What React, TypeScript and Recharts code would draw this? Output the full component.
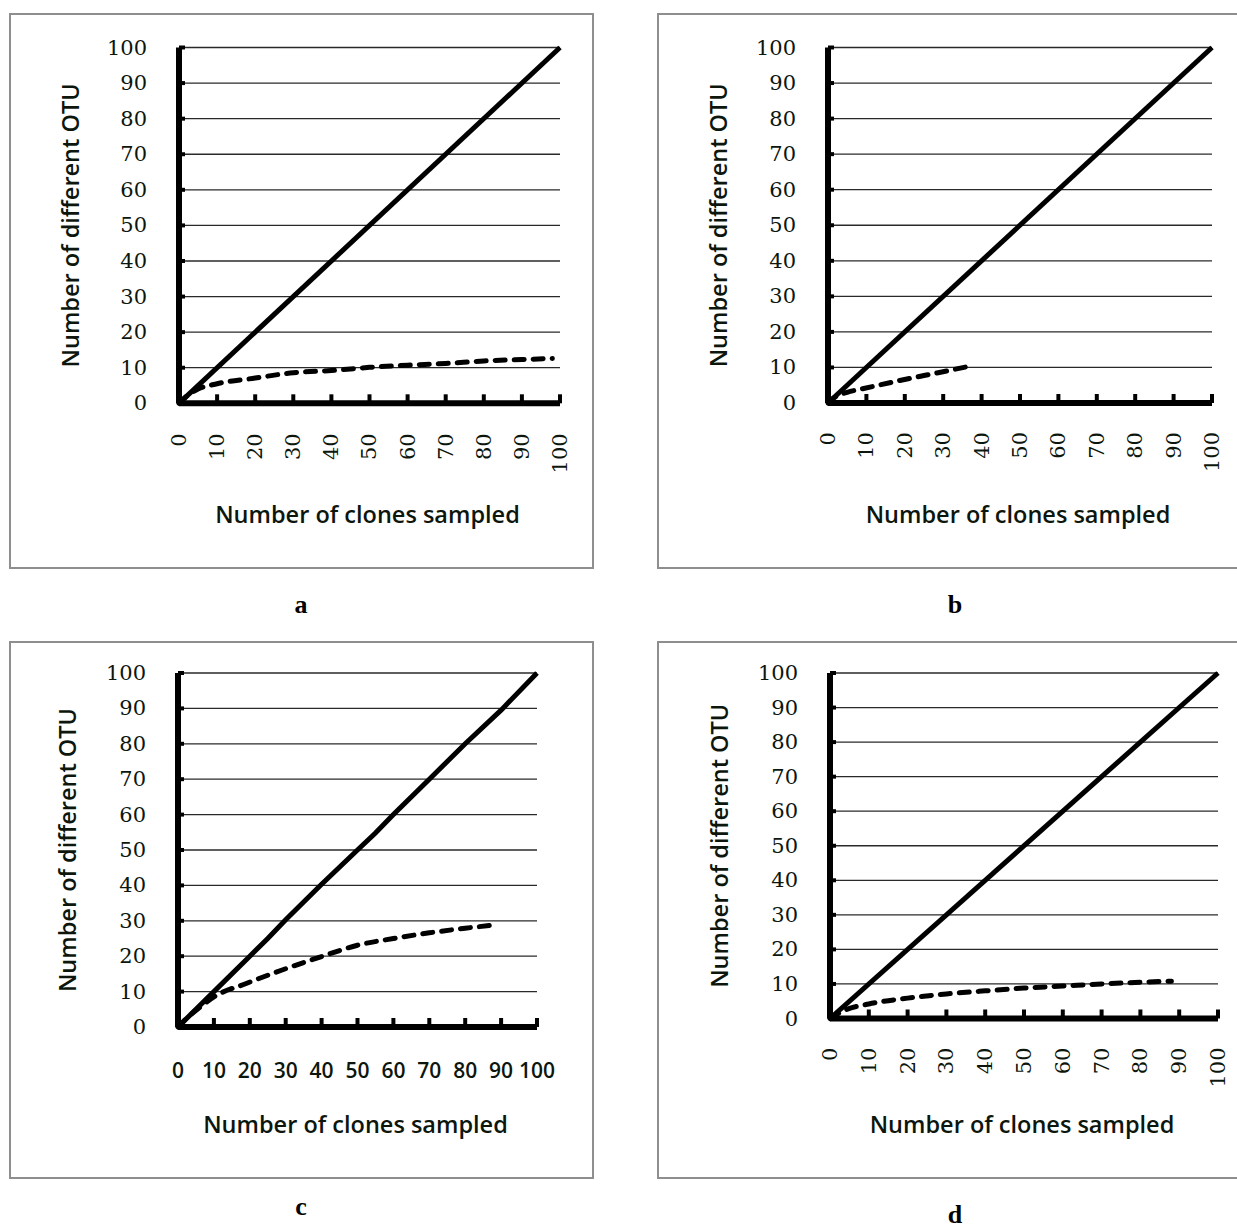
import React from "react";
import { LineChart, Line, XAxis, YAxis, CartesianGrid, Label } from "recharts";

// axis ticks
const xTicks = [0, 10, 20, 30, 40, 50, 60, 70, 80, 90, 100];
const yTicks = [0, 10, 20, 30, 40, 50, 60, 70, 80, 90, 100];

// 1:1 line (every clone a new OTU)
const diagX = [0, 100];
const diagY = [0, 100];

// panel c reference line
const cLineX = [0, 10, 20, 25, 30, 40, 50, 55, 60, 70, 75, 80, 90, 100];
const cLineY = [0, 10, 20, 25, 30.3, 40.3, 50, 54.8, 60, 70, 75, 80, 89.5, 100];

// rarefaction curves
const aClones = [0, 2, 5, 10, 20, 30, 40, 50, 60, 70, 80, 90, 98];
const aOtu = [0, 2, 4, 5.5, 7.1, 8.6, 9.2, 10.1, 10.7, 11.2, 11.9, 12.3, 12.6];

const bClones = [0, 2, 5, 9, 19, 29, 38];
const bOtu = [0, 1.8, 3, 4, 6.4, 8.6, 10.6];

const cClones = [0, 3, 6, 10, 19, 29, 40, 50, 60, 70, 80, 88];
const cOtu = [0, 3, 5.5, 8.5, 12.3, 16.1, 19.9, 23.1, 25, 26.6, 27.9, 28.8];

const dClones = [0, 4, 10, 20, 30, 40, 50, 60, 70, 80, 88];
const dOtu = [0, 2.5, 4.2, 5.9, 7.1, 8, 8.8, 9.4, 10, 10.5, 10.8];

const toPoints = (xs: number[], ys: number[]) => xs.map((x, i) => ({ x, y: ys[i] }));

const SERIF = "'DejaVu Serif', serif";
const SANS = "'Open Sans', sans-serif";
const TEXT = "#0c160c";
const Y_GAP = 32;

type Box = { l: number; t: number; w: number; h: number };
type Plot = { l: number; r: number; t: number; b: number };

interface PanelProps {
  box: Box;
  plot: Plot;
  solid: { x: number; y: number }[];
  dashed: { x: number; y: number }[];
  rotateX: boolean;
  xLabelGap: number;
  xTitleBase: number;
  yTitleCx: number;
}

function YTick(props: any) {
  const { x, y, payload } = props;
  const ax = x + Y_GAP;
  return (
    <g>
      <line x1={ax} x2={ax + 6} y1={y} y2={y} stroke="#000" strokeWidth={4} />
      <text x={x} y={y} textAnchor="end" dominantBaseline="central" fontFamily={SERIF} fontSize={21} fill={TEXT}>
        {payload.value}
      </text>
    </g>
  );
}

function makeXTick(rotate: boolean, gap: number) {
  return (props: any) => {
    const { x, y, payload } = props;
    const ay = y - gap;
    return (
      <g>
        <line x1={x} x2={x} y1={ay} y2={ay - 9} stroke="#000" strokeWidth={4} />
        {rotate ? (
          <text
            x={x}
            y={y}
            transform={`rotate(-90, ${x}, ${y})`}
            textAnchor="end"
            dominantBaseline="central"
            fontFamily={SERIF}
            fontSize={21}
            fill={TEXT}
          >
            {payload.value}
          </text>
        ) : (
          <text x={x} y={y} textAnchor="middle" fontFamily={SANS} fontSize={21} fontWeight={600} fill={TEXT}>
            {payload.value}
          </text>
        )}
      </g>
    );
  };
}

function Panel({ box, plot, solid, dashed, rotateX, xLabelGap, xTitleBase, yTitleCx }: PanelProps) {
  const left = plot.l - box.l;
  const top = plot.t - box.t;
  const right = box.l + box.w - plot.r;
  const xAxisH = box.t + box.h - plot.b;
  return (
    <>
      <div
        style={{
          position: "absolute",
          left: box.l,
          top: box.t,
          width: box.w,
          height: box.h,
          boxSizing: "border-box",
          border: "2px solid #8e8e8e",
        }}
      />
      <div style={{ position: "absolute", left: box.l, top: box.t }}>
        <LineChart width={box.w} height={box.h} margin={{ top, right, left: 0, bottom: 0 }}>
          <CartesianGrid vertical={false} stroke="#2a2a2a" strokeWidth={1.3} />
          <XAxis
            type="number"
            dataKey="x"
            domain={[0, 100]}
            ticks={xTicks}
            interval={0}
            height={xAxisH}
            axisLine={{ stroke: "#000", strokeWidth: 6 }}
            tickLine={false}
            tickSize={0}
            tickMargin={xLabelGap}
            tick={makeXTick(rotateX, xLabelGap)}
          >
            <Label
              content={(p: any) => {
                const vb = p.viewBox;
                return (
                  <text
                    x={vb.x + vb.width / 2 - 2}
                    y={xTitleBase - box.t}
                    textAnchor="middle"
                    fontFamily={SANS}
                    fontSize={23.5}
                    fontWeight={600}
                    fill={TEXT}
                  >
                    Number of clones sampled
                  </text>
                );
              }}
            />
          </XAxis>
          <YAxis
            type="number"
            domain={[0, 100]}
            ticks={yTicks}
            interval={0}
            width={left}
            axisLine={{ stroke: "#000", strokeWidth: 6 }}
            tickLine={false}
            tickSize={0}
            tickMargin={Y_GAP}
            tick={(p: any) => <YTick {...p} />}
          >
            <Label
              content={(p: any) => {
                const vb = p.viewBox;
                const cx = yTitleCx - box.l;
                const cy = vb.y + vb.height / 2;
                return (
                  <text
                    x={cx}
                    y={cy}
                    transform={`rotate(-90, ${cx}, ${cy})`}
                    textAnchor="middle"
                    dominantBaseline="central"
                    fontFamily={SANS}
                    fontSize={23.5}
                    fontWeight={600}
                    fill={TEXT}
                  >
                    Number of different OTU
                  </text>
                );
              }}
            />
          </YAxis>
          <Line
            data={solid}
            dataKey="y"
            type="linear"
            stroke="#000"
            strokeWidth={5}
            dot={false}
            activeDot={false}
            isAnimationActive={false}
          />
          <Line
            data={dashed}
            dataKey="y"
            type="monotone"
            stroke="#000"
            strokeWidth={5}
            strokeDasharray="10 9"
            strokeLinecap="round"
            dot={false}
            activeDot={false}
            isAnimationActive={false}
          />
        </LineChart>
      </div>
    </>
  );
}

function Letter({ x, y, children }: { x: number; y: number; children: string }) {
  return (
    <div
      style={{
        position: "absolute",
        left: x - 20,
        top: y - 22,
        width: 40,
        height: 26,
        textAlign: "center",
        fontFamily: "'Liberation Serif', serif",
        fontWeight: 700,
        fontSize: 26,
        lineHeight: "26px",
        color: "#000",
      }}
    >
      {children}
    </div>
  );
}

export default function App() {
  return (
    <div
      style={{
        position: "absolute",
        left: 0,
        top: 0,
        width: 1237,
        height: 1228,
        overflow: "hidden",
        background: "#fff",
      }}
    >
      <Panel
        box={{ l: 9, t: 13, w: 585, h: 556 }}
        plot={{ l: 179, r: 560, t: 47.5, b: 403.3 }}
        solid={toPoints(diagX, diagY)}
        dashed={toPoints(aClones, aOtu)}
        rotateX
        xLabelGap={30}
        xTitleBase={523}
        yTitleCx={70}
      />
      <Panel
        box={{ l: 657, t: 13, w: 590, h: 556 }}
        plot={{ l: 828, r: 1212, t: 47.5, b: 403 }}
        solid={toPoints(diagX, diagY)}
        dashed={toPoints(bClones, bOtu)}
        rotateX
        xLabelGap={29}
        xTitleBase={523}
        yTitleCx={718}
      />
      <Panel
        box={{ l: 9, t: 641, w: 585, h: 538 }}
        plot={{ l: 178, r: 537, t: 673, b: 1027 }}
        solid={toPoints(cLineX, cLineY)}
        dashed={toPoints(cClones, cOtu)}
        rotateX={false}
        xLabelGap={51}
        xTitleBase={1133}
        yTitleCx={67}
      />
      <Panel
        box={{ l: 657, t: 641, w: 590, h: 538 }}
        plot={{ l: 830, r: 1218, t: 673, b: 1018.5 }}
        solid={toPoints(diagX, diagY)}
        dashed={toPoints(dClones, dOtu)}
        rotateX
        xLabelGap={29}
        xTitleBase={1133}
        yTitleCx={719}
      />
      <Letter x={301} y={614}>a</Letter>
      <Letter x={955} y={614}>b</Letter>
      <Letter x={301} y={1216}>c</Letter>
      <Letter x={955} y={1224}>d</Letter>
    </div>
  );
}
